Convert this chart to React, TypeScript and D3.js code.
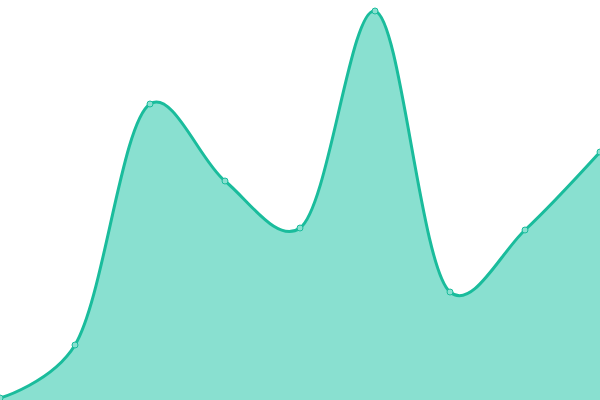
import { useEffect, useRef } from "react";
import * as d3 from "d3";

// Sample positions and values
const xValues = [0, 1, 2, 3, 4, 5, 6, 7, 8];
const yValues = [0.5, 13.75, 74, 54.75, 43, 97.25, 27, 42.5, 62];

const WIDTH = 600;
const HEIGHT = 400;

export default function App() {
	const ref = useRef<SVGSVGElement>(null);

	useEffect(() => {
		const svg = d3.select(ref.current);
		svg.selectAll("*").remove();

		const data = xValues.map((x, i) => ({ x, y: yValues[i] }));

		const x = d3.scaleLinear().domain([0, 8]).range([0, WIDTH]);
		const y = d3.scaleLinear().domain([0, 100]).range([HEIGHT, 0]);

		// Catmull-Rom between uniform and centripetal
		const curve = d3.curveCatmullRom.alpha(0.25);

		const area = d3.area<{ x: number; y: number }>()
			.x(d => x(d.x))
			.y0(HEIGHT)
			.y1(d => y(d.y))
			.curve(curve);

		const line = d3.line<{ x: number; y: number }>()
			.x(d => x(d.x))
			.y(d => y(d.y))
			.curve(curve);

		svg.append("path")
			.datum(data)
			.attr("d", area)
			.attr("fill", "#89e0d0");

		svg.append("path")
			.datum(data)
			.attr("d", line)
			.attr("fill", "none")
			.attr("stroke", "#1abc9c")
			.attr("stroke-width", 3);

		// Point markers
		svg.selectAll(".pt")
			.data(data)
			.enter()
			.append("circle")
			.attr("class", "pt")
			.attr("cx", d => x(d.x))
			.attr("cy", d => y(d.y))
			.attr("r", 3)
			.attr("fill", "#89e0d0")
			.attr("stroke", "#1abc9c")
			.attr("stroke-width", 1);
	}, []);

	return (
		<svg
			ref={ref}
			width={WIDTH}
			height={HEIGHT}
			style={{ position: "absolute", top: 0, left: 0 }}
		/>
	);
}
